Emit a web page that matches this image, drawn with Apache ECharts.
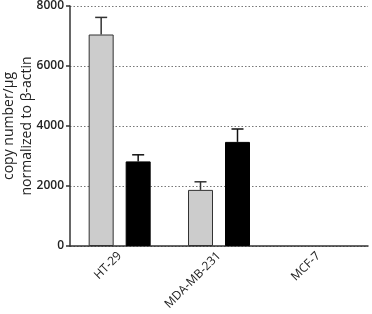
<!DOCTYPE html>
<html><head><meta charset="utf-8">
<script src="https://cdn.jsdelivr.net/npm/echarts@6/dist/echarts.min.js"></script>
<style>html,body{margin:0;padding:0;background:#fff}#c{width:372px;height:314px}</style>
</head><body><div id="c"></div>
<script>
var categories = ['HT-29', 'MDA-MB-231', 'MCF-7'];
var grayValues = [7050, 1870, null];
var grayErrors = [570, 270, null];
var blackValues = [2820, 3470, null];
var blackErrors = [220, 430, null];
var yTicks = [0, 2000, 4000, 6000, 8000];

var BAR_W = 25, BAR_GAP = 0.48;
var offset = (BAR_W + BAR_W * BAR_GAP) / 2;

function errData(vals, errs) {
  var out = [];
  for (var i = 0; i < vals.length; i++) {
    if (vals[i] != null) out.push([i, vals[i], vals[i] + errs[i]]);
  }
  return out;
}
function errRender(sign, color) {
  return function (params, api) {
    var c = api.value(0);
    var p0 = api.coord([c, api.value(1)]);
    var p1 = api.coord([c, api.value(2)]);
    var x = p0[0] + sign * offset;
    var cap = 6;
    return {
      type: 'group',
      children: [
        {type: 'line', shape: {x1: x, y1: p0[1], x2: x, y2: p1[1]}, style: {stroke: color, lineWidth: 1.5}},
        {type: 'line', shape: {x1: x - cap, y1: p1[1], x2: x + cap, y2: p1[1]}, style: {stroke: color, lineWidth: 1.5}}
      ]
    };
  };
}

var chart = echarts.init(document.getElementById('c'), null, {renderer: 'canvas'});
chart.setOption({
  animation: false,
  textStyle: {fontFamily: 'Open Sans'},
  grid: {left: 70, right: 4, top: 6, bottom: 68, containLabel: false, outerBoundsMode: 'none'},
  xAxis: {
    type: 'category',
    data: categories,
    axisLine: {lineStyle: {color: '#333', width: 1.5}},
    axisTick: {alignWithLabel: true, length: 4, lineStyle: {color: '#333', width: 1.5}},
    axisLabel: {rotate: 45, color: '#222', fontSize: 12, margin: 8, fontFamily: 'Open Sans'},
    splitLine: {show: false}
  },
  yAxis: {
    type: 'value',
    min: yTicks[0], max: yTicks[yTicks.length - 1], interval: 2000,
    name: 'copy number/µg\nnormalized to β-actin',
    nameLocation: 'middle',
    nameGap: 34,
    nameMoveOverlap: false,
    nameTextStyle: {color: '#222', fontSize: 14, lineHeight: 18, fontFamily: 'Open Sans'},
    axisLine: {show: true, lineStyle: {color: '#333', width: 1.5}},
    axisTick: {show: true, length: 4, lineStyle: {color: '#333', width: 1.5}},
    axisLabel: {color: '#222', fontSize: 12, fontWeight: 600, margin: 6, fontFamily: 'Open Sans',
                formatter: function (v) { return String(v); }},
    splitLine: {show: true, lineStyle: {type: [1.5, 2], color: '#777', width: 1}}
  },
  series: [
    {type: 'bar', data: grayValues, barWidth: BAR_W, barGap: (BAR_GAP * 100) + '%',
     itemStyle: {color: '#cccccc', borderColor: '#333', borderWidth: 1}, z: 3},
    {type: 'bar', data: blackValues, barWidth: BAR_W,
     itemStyle: {color: '#000', borderColor: '#000', borderWidth: 1}, z: 3},
    {type: 'custom', data: errData(grayValues, grayErrors), renderItem: errRender(-1, '#333'), z: 4},
    {type: 'custom', data: errData(blackValues, blackErrors), renderItem: errRender(1, '#111'), z: 4}
  ]
});
</script></body></html>
